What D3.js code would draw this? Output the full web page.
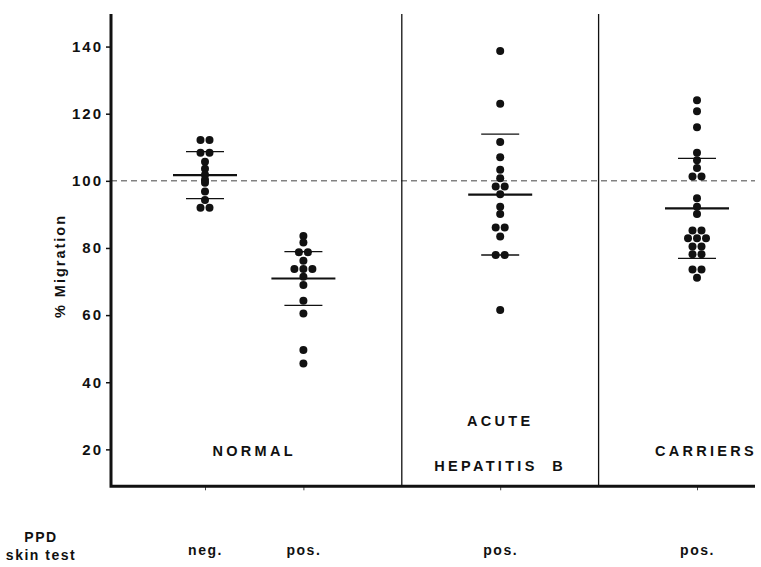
<!DOCTYPE html>
<html>
<head>
<meta charset="utf-8">
<script src="https://cdn.jsdelivr.net/npm/d3@7"></script>
<style>
  body { margin: 0; background: #fff; }
  svg text { font-family: "Liberation Sans", Arial, sans-serif; font-weight: bold; fill: #111; }
</style>
</head>
<body>
<div id="chart"></div>
<script>
// x slots for the four columns, PPD skin test result under each
const slots = [1, 2, 4, 6];
const ppdLabels = ["neg.", "pos.", "pos.", "pos."];

// % migration per subject
const normalNeg = [112.2, 112.2, 108.4, 108.4, 105.7, 103.6, 101.8, 100.3, 99.4, 96.8, 94.3, 92.0, 92.0];
const normalPos = [83.6, 81.6, 78.7, 78.7, 76.2, 73.7, 73.7, 73.7, 71.4, 69.0, 64.3, 60.5, 49.6, 45.6];
const acuteHepB = [138.7, 123.0, 111.6, 107.0, 103.3, 100.8, 98.3, 98.3, 96.0, 92.3, 90.1, 86.1, 86.1, 83.4, 77.9, 77.9, 61.5];
const carriers = [124.0, 120.7, 116.0, 108.4, 106.1, 103.8, 101.3, 101.3, 94.8, 92.3, 90.1, 85.2, 85.2,
                  82.9, 82.9, 82.9, 80.4, 80.4, 78.1, 78.1, 73.6, 73.6, 71.1];
const groups = [normalNeg, normalPos, acuteHepB, carriers];

// mean and SD bars as drawn
const means = [101.7, 70.9, 95.9, 91.8];
const sds = [7.0, 8.0, 18.0, 14.9];

const yTicks = [20, 40, 60, 80, 100, 120, 140];

const width = 761, height = 567;
const plotLeft = 111, plotRight = 755, plotTop = 14;
const baseValue = 9; // the x axis sits a little above 0

const svg = d3.select("#chart").append("svg")
    .attr("width", width)
    .attr("height", height);

let y = d3.scaleLinear().domain([0, 150]).range([516.5, 13]);
let x = d3.scaleLinear().domain([1, 6]).range([205, 697]);
const plotBottom = y(baseValue);

// reference line at 100 %
svg.append("line")
    .attr("x1", plotLeft).attr("x2", plotRight)
    .attr("y1", y(100)).attr("y2", y(100))
    .attr("stroke", "#444").attr("stroke-width", 1)
    .attr("stroke-dasharray", "6,4");

// column dividers
svg.selectAll("line.div")
    .data([3, 5])
    .enter().append("line")
    .attr("class", "div")
    .attr("x1", d => x(d)).attr("x2", d => x(d))
    .attr("y1", plotTop).attr("y2", plotBottom)
    .attr("stroke", "#111").attr("stroke-width", 1.3);

// y axis
let yAxis = svg.append("g")
    .attr("transform", "translate(" + plotLeft + ",0)")
    .call(d3.axisLeft(y).tickValues(yTicks).tickSize(5).tickSizeOuter(0).tickPadding(3));
yAxis.select(".domain").remove();
yAxis.selectAll(".tick line").attr("stroke", "#111").attr("stroke-width", 1.5);
yAxis.selectAll(".tick text")
    .style("font-size", "15px")
    .style("letter-spacing", "2px")
    .attr("fill", "#111");

// bottom axis with ppd labels
let xAxis = svg.append("g")
    .attr("transform", "translate(0," + plotBottom + ")")
    .call(d3.axisBottom(x).tickValues(slots).tickFormat((d, i) => ppdLabels[i]).tickSize(4).tickSizeOuter(0).tickPadding(55));
xAxis.select(".domain").remove();
xAxis.selectAll(".tick line").attr("stroke", "#444").attr("stroke-width", 1);
xAxis.selectAll(".tick text")
    .style("font-size", "14px")
    .style("letter-spacing", "1.5px")
    .attr("fill", "#111");

// frame: thick left and bottom lines
svg.append("path")
    .attr("d", "M" + plotLeft + "," + plotTop + "V" + plotBottom + "H" + plotRight)
    .attr("fill", "none")
    .attr("stroke", "#111")
    .attr("stroke-width", 3);

// mean and sd bars
groups.forEach(function(vals, g) {
    let cx = x(slots[g]);
    svg.append("line")
        .attr("x1", cx - 32).attr("x2", cx + 32)
        .attr("y1", y(means[g])).attr("y2", y(means[g]))
        .attr("stroke", "#111").attr("stroke-width", 2.2);
    [means[g] + sds[g], means[g] - sds[g]].forEach(function(v) {
        svg.append("line")
            .attr("x1", cx - 19).attr("x2", cx + 19)
            .attr("y1", y(v)).attr("y2", y(v))
            .attr("stroke", "#111").attr("stroke-width", 1.3);
    });
});

// dots, equal values are set side by side
groups.forEach(function(vals, g) {
    let counts = d3.rollup(vals, v => v.length, d => d);
    let seen = new Map();
    let pts = vals.map(function(v) {
        let n = counts.get(v);
        let k = seen.get(v) || 0;
        seen.set(v, k + 1);
        return { v: v, dx: (k - (n - 1) / 2) * 9 };
    });
    svg.selectAll("circle.g" + g)
        .data(pts)
        .enter().append("circle")
        .attr("class", "g" + g)
        .attr("cx", d => x(slots[g]) + d.dx)
        .attr("cy", d => y(d.v))
        .attr("r", 4)
        .attr("fill", "#111");
});

// group titles
let titles = [
    { text: "NORMAL", x: x(1.5), y: 451 },
    { text: "ACUTE", x: x(4), y: 421 },
    { text: "HEPATITIS  B", x: x(4), y: 466 },
    { text: "CARRIERS", x: 706, y: 451 }
];
svg.selectAll("text.title")
    .data(titles)
    .enter().append("text")
    .attr("class", "title")
    .attr("x", d => d.x)
    .attr("y", d => d.y)
    .attr("text-anchor", "middle")
    .attr("dy", "0.35em")
    .style("font-size", "14.5px")
    .style("letter-spacing", "3.3px")
    .style("white-space", "pre")
    .text(d => d.text);

// axis titles
svg.append("text")
    .attr("transform", "translate(60,266) rotate(-90)")
    .attr("text-anchor", "middle")
    .attr("dy", "0.35em")
    .style("font-size", "14.5px")
    .style("letter-spacing", "2px")
    .text("% Migration");

svg.append("text")
    .attr("x", 41).attr("y", 542)
    .attr("text-anchor", "middle")
    .style("font-size", "14px")
    .style("letter-spacing", "1.5px")
    .text("PPD");
svg.append("text")
    .attr("x", 41).attr("y", 560)
    .attr("text-anchor", "middle")
    .style("font-size", "14px")
    .style("letter-spacing", "1.5px")
    .text("skin test");
</script>
</body>
</html>
